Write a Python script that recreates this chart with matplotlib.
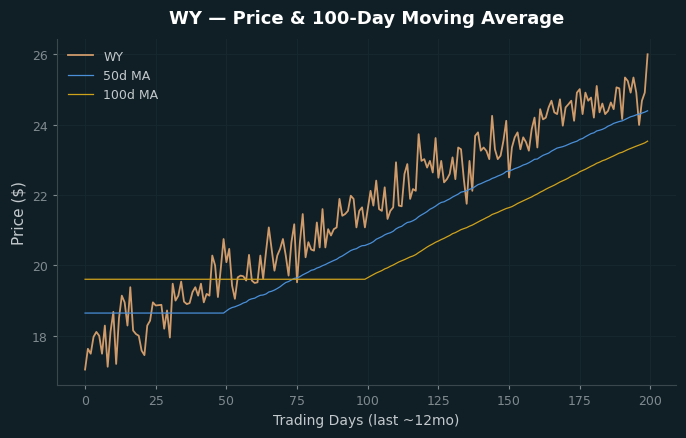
import matplotlib
matplotlib.use('Agg')
import matplotlib.pyplot as plt
import numpy as np
import pandas as pd

ticker = "WY"

# daily closing prices (200 trading days)
prices = [
    17.04, 17.63, 17.49, 17.97, 18.11, 18.00, 17.49, 18.29, 17.12, 18.11,
    18.68, 17.20, 18.50, 19.14, 18.95, 18.29, 19.38, 18.15, 18.05, 18.00,
    17.58, 17.45, 18.29, 18.43, 18.95, 18.86, 18.87, 18.88, 18.20, 18.72,
    17.95, 19.48, 19.00, 19.14, 19.54, 18.97, 18.90, 18.93, 19.24, 19.38,
    19.14, 19.48, 18.95, 19.19, 19.14, 20.28, 20.00, 19.10, 19.90, 20.75,
    20.09, 20.47, 19.43, 19.05, 19.66, 19.71, 19.69, 19.57, 20.30, 19.57,
    19.50, 19.52, 20.28, 19.62, 20.38, 21.08, 20.47, 19.85, 20.28, 20.47,
    20.75, 20.28, 19.71, 20.66, 21.17, 19.52, 20.66, 21.46, 20.23, 20.66,
    20.45, 20.42, 21.22, 20.51, 21.60, 20.51, 21.03, 20.85, 21.03, 21.08,
    21.89, 21.41, 21.46, 21.55, 21.98, 21.89, 21.08, 21.55, 21.65, 21.08,
    21.60, 22.12, 21.70, 22.41, 21.60, 21.55, 22.22, 21.32, 21.55, 21.65,
    22.93, 21.70, 21.68, 22.60, 22.88, 21.89, 22.17, 22.12, 23.73, 22.97,
    23.02, 22.78, 22.97, 22.64, 23.62, 22.49, 22.97, 22.36, 22.45, 22.60,
    23.07, 22.45, 23.35, 23.30, 22.45, 21.75, 22.97, 22.12, 23.68, 23.78,
    23.26, 23.35, 23.25, 23.02, 24.25, 23.30, 23.02, 23.12, 23.54, 24.11,
    22.50, 23.35, 23.64, 23.78, 23.30, 23.64, 23.50, 23.26, 23.87, 24.20,
    23.35, 24.44, 24.15, 24.20, 24.49, 24.68, 24.35, 24.30, 24.72, 23.97,
    24.49, 24.58, 24.68, 24.11, 24.91, 25.01, 24.30, 24.91, 24.68, 24.77,
    24.20, 25.10, 24.35, 24.60, 24.30, 24.39, 24.63, 24.44, 25.06, 25.03,
    24.16, 25.34, 25.24, 24.91, 25.34, 24.91, 23.99, 24.68, 24.91, 26.00,
]

days = np.arange(len(prices))
s = pd.Series(prices)
ma50 = s.rolling(50).mean().bfill()
ma100 = s.rolling(100).mean().bfill()

bg = '#101f26'
fig, ax = plt.subplots(figsize=(6.86, 4.39), dpi=100)
fig.patch.set_facecolor(bg)
ax.set_facecolor(bg)

ax.plot(days, prices, color='#d09b6a', linewidth=1.3, label=ticker)
ax.plot(days, ma50, color='#4a8fd8', linewidth=0.9, label='50d MA')
ax.plot(days, ma100, color='#cfa21c', linewidth=0.9, label='100d MA')

ax.set_title(f'{ticker} \u2014 Price & 100-Day Moving Average',
             fontsize=13, fontweight='bold', color='white', pad=11)
ax.set_xlabel('Trading Days (last ~12mo)', fontsize=10, color='#c3c9cc')
ax.set_ylabel('Price ($)', fontsize=11, color='#c3c9cc')

ax.set_xticks([0, 25, 50, 75, 100, 125, 150, 175, 200])
ax.set_yticks([18, 20, 22, 24, 26])
ax.tick_params(colors='#7f8a8f', labelsize=9, length=3)

ax.grid(True, color='#17272e', linewidth=0.8)
ax.set_axisbelow(True)
for side in ['top', 'right']:
    ax.spines[side].set_visible(False)
for side in ['left', 'bottom']:
    ax.spines[side].set_color('#3a474d')

leg = ax.legend(loc='upper left', frameon=False, fontsize=9)
for t in leg.get_texts():
    t.set_color('#c3c9cc')

plt.subplots_adjust(left=0.083, right=0.985, top=0.91, bottom=0.12)
plt.savefig('out.png', dpi=100, facecolor=bg)
plt.close()
